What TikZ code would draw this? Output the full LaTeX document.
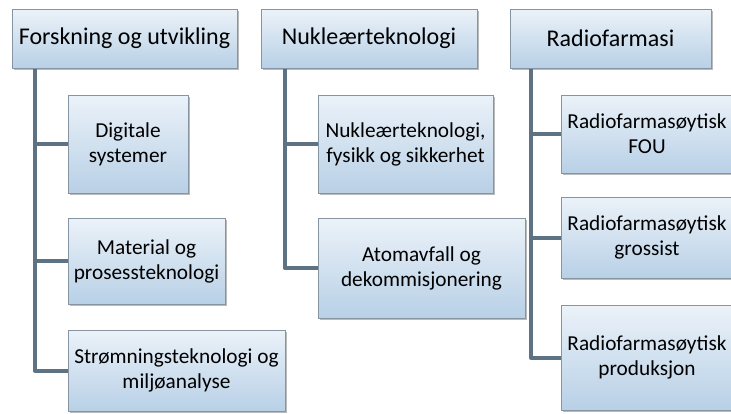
\documentclass[tikz,border=0pt]{standalone}
\usepackage{fontspec}
\setmainfont{Carlito}
\usetikzlibrary{shadows,backgrounds}

\definecolor{boxtop}{HTML}{EBF2F9}
\definecolor{boxbot}{HTML}{B8D0E6}
\definecolor{boxline}{HTML}{8795A3}
\definecolor{connline}{HTML}{5D7384}

\tikzset{every picture/.style={line width=0.75pt}}
\tikzset{
  orgbox/.style={draw=boxline, line width=0.8pt, top color=boxtop, bottom color=boxbot,
    drop shadow={shadow xshift=2pt, shadow yshift=-2pt, opacity=0.45, fill=black!60},
    align=center, inner sep=0pt, font=\fontsize{21.3}{25}\selectfont},
  headbox/.style={orgbox, font=\fontsize{24}{28}\selectfont},
  conn/.style={draw=connline, line width=4pt, line cap=round, line join=round}
}

\begin{document}
\begin{tikzpicture}[x=1pt,y=1pt,yscale=-1]
\useasboundingbox (0,0) rectangle (731,413);
\clip (0,0) rectangle (731,413);

% Header nodes
\node [headbox, minimum width=225, minimum height=59] (forsk) at (124.5,38.5) {Forskning og utvikling};
\node [headbox, minimum width=216, minimum height=59] (nukl) at (369,38.5) {Nukleærteknologi};
\node [headbox, minimum width=201, minimum height=59] (radio) at (610.5,38.5) {Radiofarmasi};

% Child nodes
\node [orgbox, minimum width=120, minimum height=98] (digital) at (128,144) {Digitale\\systemer};
\node [orgbox, minimum width=157, minimum height=86] (material) at (146.5,261) {Material og\\prosessteknologi};
\node [orgbox, minimum width=217, minimum height=81] (stroem) at (176.5,370.5) {Strømningsteknologi og\\miljøanalyse};

\node [orgbox, minimum width=175, minimum height=98] (fysikk) at (405.5,144) {Nukleærteknologi,\\fysikk og sikkerhet};
\node [orgbox, minimum width=207, minimum height=100] (atom) at (421.5,268) {Atomavfall og\\dekommisjonering};

\node [orgbox, minimum width=172, minimum height=78] (fou) at (647,134) {Radiofarmasøytisk\\FOU};
\node [orgbox, minimum width=172, minimum height=81] (gross) at (647,237.5) {Radiofarmasøytisk\\grossist};
\node [orgbox, minimum width=172, minimum height=105] (prod) at (647,357.5) {Radiofarmasøytisk\\produksjon};

% Connector start points
\coordinate (forskroot) at ([xshift=23pt]forsk.south west);
\coordinate (nuklroot) at ([xshift=24pt]nukl.south west);
\coordinate (radioroot) at ([xshift=21pt]radio.south west);

% Connectors
\begin{scope}[on background layer]
\draw [conn] (forskroot) |- (digital.west);
\draw [conn] (forskroot) |- (material.west);
\draw [conn] (forskroot) |- (stroem.west);
\draw [conn] (nuklroot) |- (fysikk.west);
\draw [conn] (nuklroot) |- (atom.west);
\draw [conn] (radioroot) |- (fou.west);
\draw [conn] (radioroot) |- (gross.west);
\draw [conn] (radioroot) |- (prod.west);
\end{scope}

\end{tikzpicture}
\end{document}
